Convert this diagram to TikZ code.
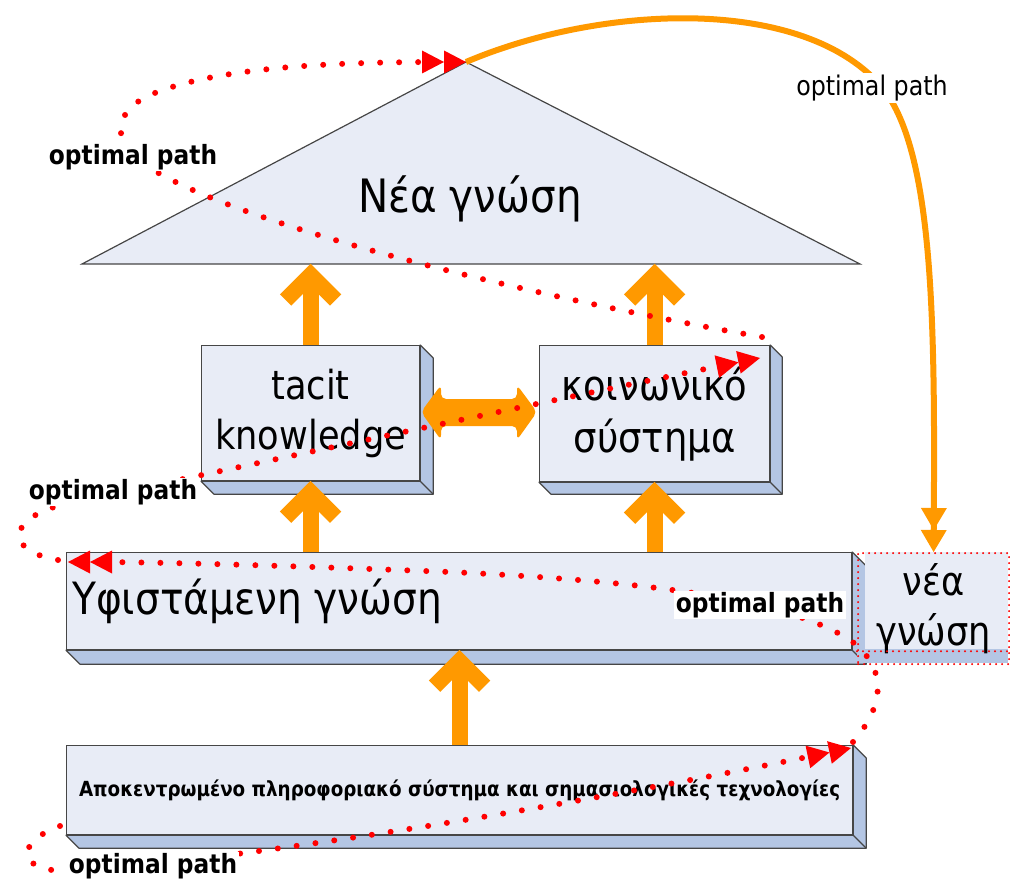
\documentclass[tikz,border=0pt]{standalone}
\usepackage{fontspec}
\setmainfont{DejaVu Sans}[FakeStretch=0.88]
\usetikzlibrary{arrows.meta,calc}

\definecolor{facefill}{RGB}{232,236,246}
\definecolor{sidefill}{RGB}{180,198,228}
\definecolor{edgegray}{RGB}{70,70,70}
\definecolor{orng}{RGB}{255,153,0}

% right and bottom faces of a slab drawn behind a front node
\newcommand\slabdepth[2]{%
  \filldraw[fill=sidefill, draw=edgegray, line width=1.2pt, line join=round]
    (#1.north east) -- ++(#2,#2) -- ([shift={(#2,#2)}]#1.south east)
    -- ([shift={(#2,#2)}]#1.south west) -- (#1.south west) -- (#1.south east) -- cycle;
  \draw[edgegray, line width=1.2pt] (#1.south east) -- ++(#2,#2);
}

% thick orange arrow with a chevron head: from #1 up to the tip #2
\newcommand\orangeup[2]{%
  \draw[orng, line width=16pt] (#1) -- ([shift={(0,20)}]#2);
  \draw[orng, line width=16pt, line join=miter, miter limit=10]
    ([shift={(-25,36)}]#2) -- ([shift={(0,11)}]#2) -- ([shift={(25,36)}]#2);
}

\begin{document}
\begin{tikzpicture}[x=1pt, y=-1pt,
  face/.style={fill=facefill, draw=edgegray, line width=1.2pt, inner sep=0pt},
  big/.style={font=\fontsize{40}{50}\selectfont, align=center},
  lblb/.style={font=\bfseries\fontsize{26.5}{26.5}\selectfont, fill=white, inner sep=1.5pt},
  lblr/.style={font=\fontsize{27}{27}\selectfont, fill=white, inner sep=1.5pt},
  redpath/.style={draw=red, line width=6pt, line cap=round, dash pattern=on 0pt off 19pt,
    -{Triangle[length=22pt,width=23pt,line width=0pt]Triangle[length=22pt,width=23pt,line width=0pt]}},
  neadot/.style={draw=red, line width=2.2pt, line cap=round, dash pattern=on 0pt off 6pt},
  orngcurve/.style={draw=orng, line width=6pt,
    -{Triangle[length=22pt,width=26pt,line width=0pt]Triangle[length=22pt,width=26pt,line width=0pt]}}
]
\useasboundingbox (0,0) rectangle (1010,880);

% roof: new knowledge
\coordinate (apex) at (466,62);
\coordinate (tl) at (82,264);
\coordinate (tr) at (860,264);
\filldraw[fill=facefill, draw=edgegray, line width=1.2pt] (apex) -- (tr) -- (tl) -- cycle;
\node[font=\fontsize{46}{46}\selectfont, anchor=base, inner sep=0pt] (newk) at (470,212) {Νέα γνώση};

% middle boxes
\node[face, big, minimum width=218pt, minimum height=135pt, anchor=north west] (tacit) at (201,345) {tacit\\knowledge};
\slabdepth{tacit}{13}
\node[face, big, font=\fontsize{42}{52}\selectfont, minimum width=230pt, minimum height=136pt, anchor=north west] (koin) at (539,345) {κοινωνικό\\σύστημα};
\slabdepth{koin}{12}

% existing knowledge slab
\node[face, minimum width=785pt, minimum height=97pt, anchor=north west] (yf) at (66,552) {};
\slabdepth{yf}{14}
\node[font=\fontsize{44.5}{44.5}\selectfont, anchor=base west, inner sep=0pt] (yftext) at (72,614) {Υφιστάμενη γνώση};

% base slab
\node[face, font=\bfseries\fontsize{20.8}{20.8}\selectfont, minimum width=786pt, minimum height=89pt, anchor=north west] (apo) at (66,745)
  {Αποκεντρωμένο πληροφοριακό σύστημα και σημασιολογικές τεχνολογίες};
\slabdepth{apo}{13}

% small box on the right
\fill[facefill] (865,552) rectangle (1008,649);
\fill[sidefill] (857,649) rectangle (1008,663);
\node[neadot, big, minimum width=151pt, minimum height=111pt, anchor=north west, inner sep=0pt] (nea) at (857,552) {νέα\\γνώση};
\draw[neadot] ([shift={(0,-14)}]nea.south west) -- ([shift={(0,-14)}]nea.south east);

% upward arrows
\orangeup{tacit.north}{tacit.north |- tl}
\orangeup{koin.north}{koin.north |- tl}
\orangeup{tacit.south |- yf.north}{tacit.south}
\orangeup{koin.south |- yf.north}{koin.south}
\orangeup{apo.north}{apo.north |- yf.south}

% two-way arrow between the middle boxes
\fill[orng, rounded corners=5pt] (421,412) -- (441,385) -- (441,399) -- (517,399) -- (517,385)
  -- (537,412) -- (517,440) -- (517,426) -- (441,426) -- (441,440) -- cycle;

% orange path from the apex to the small box
\draw[orngcurve] (apex) .. controls (600,5) and (800,-5) .. (880,85)
  .. controls (935,147) and (935,330) .. (nea.north);

% red dotted paths
\coordinate (r1s) at (60,826);
\coordinate (r1e) at (851,748);
\draw[redpath] (r1s) .. controls (15,842) and (15,872) .. (70,871)
  .. controls (250,860) and (600,800) .. (r1e);
\coordinate (r2s) at (853,742);
\coordinate (r2e) at (68,562);
\draw[redpath] (r2s) .. controls (885,705) and (888,668) .. (850,640)
  .. controls (780,595) and (620,580) .. (450,572)
  .. controls (300,566) and (160,562) .. (r2e);
\coordinate (r3s) at (58,560);
\coordinate (r3e) at (760,358);
\draw[redpath] (r3s) .. controls (0,550) and (10,515) .. (70,503)
  .. controls (180,480) and (550,400) .. (r3e);
\coordinate (r4s) at (762,337);
\draw[redpath] (r4s) .. controls (550,300) and (250,230) .. (150,168)
  .. controls (110,145) and (112,112) .. (150,95)
  .. controls (220,65) and (350,62) .. (apex);

% labels
\node[lblb] (op1) at (133,157) {optimal path};
\node[lblr] (op2) at (872,88) {optimal path};
\node[lblb] (op3) at (113,492) {optimal path};
\node[lblb] (op4) at (760,605) {optimal path};
\node[lblb] (op5) at (153,866) {optimal path};
\end{tikzpicture}
\end{document}
